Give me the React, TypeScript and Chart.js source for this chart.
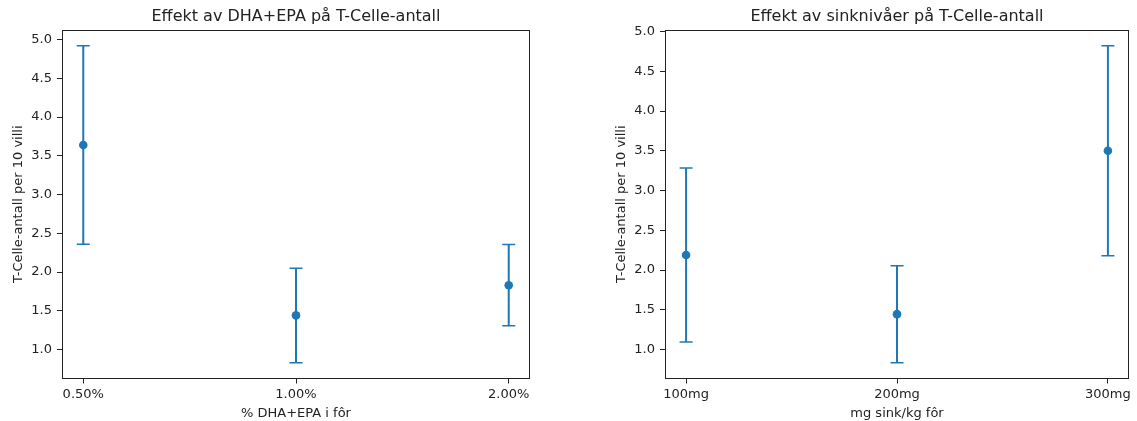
import React, { useEffect, useRef } from 'react';
import { Chart, registerables } from 'chart.js';

Chart.register(...registerables);

// ---- data ----
const dhaLabels = ['0.50%', '1.00%', '2.00%'];
const dhaMeans = [3.64, 1.44, 1.83];
const dhaErrors = [1.28, 0.61, 0.525];

const zincLabels = ['100mg', '200mg', '300mg'];
const zincMeans = [2.19, 1.445, 3.5];
const zincErrors = [1.095, 0.61, 1.32];

const yTickValues = [1.0, 1.5, 2.0, 2.5, 3.0, 3.5, 4.0, 4.5, 5.0];

const dhaTitle = 'Effekt av DHA+EPA på T-Celle-antall';
const zincTitle = 'Effekt av sinknivåer på T-Celle-antall';
const dhaXTitle = '% DHA+EPA i fôr';
const zincXTitle = 'mg sink/kg fôr';
const yTitle = 'T-Celle-antall per 10 villi';

// ---- style ----
const BLUE = '#1f77b4';
const INK = '#222222';
const FONT = "'DejaVu Sans', sans-serif";
const CANVAS_H = 421;
const AREA_TOP = 30;
const AREA_BOTTOM = 378.5;

const framePlugin = {
  id: 'frame',
  afterDatasetsDraw(chart: any) {
    const { left, top, right, bottom } = chart.chartArea;
    const ctx = chart.ctx;
    ctx.save();
    ctx.strokeStyle = INK;
    ctx.lineWidth = 1;
    const l = Math.round(left) + 0.5;
    const t = Math.round(top) + 0.5;
    const r = Math.round(right) - 0.5;
    const b = Math.round(bottom) - 0.5;
    ctx.strokeRect(l, t, r - l, b - t);
    ctx.restore();
  },
};

type PanelProps = {
  labels: string[];
  means: number[];
  errors: number[];
  title: string;
  xTitle: string;
  left: number;
  width: number;
  axisWidth: number;
  padRight: number;
  yTitlePad: number;
};

function Panel(p: PanelProps) {
  const ref = useRef<HTMLCanvasElement | null>(null);

  useEffect(() => {
    if (!ref.current) return;
    const lows = p.means.map((m, i) => m - p.errors[i]);
    const highs = p.means.map((m, i) => m + p.errors[i]);
    const lo = Math.min(...lows);
    const hi = Math.max(...highs);
    const span = hi - lo;
    const yMin = lo - 0.05 * span;
    const yMax = hi + 0.05 * span;
    const n = p.labels.length;
    const xMin = -0.05 * (n - 1);
    const xMax = n - 1 + 0.05 * (n - 1);

    const stems: any[] = [];
    p.means.forEach((_, i) => {
      stems.push({ x: i, y: lows[i] });
      stems.push({ x: i, y: highs[i] });
      stems.push({ x: i, y: null });
    });
    const caps: any[] = [];
    p.means.forEach((_, i) => {
      caps.push({ x: i, y: lows[i] });
      caps.push({ x: i, y: highs[i] });
    });
    const marks = p.means.map((m, i) => ({ x: i, y: m }));

    const chart = new Chart(ref.current, {
      type: 'line',
      data: {
        datasets: [
          {
            data: stems,
            borderColor: BLUE,
            borderWidth: 2,
            pointRadius: 0,
            spanGaps: false,
            showLine: true,
            order: 3,
          } as any,
          {
            data: caps,
            showLine: false,
            pointStyle: 'line',
            pointRadius: 6.5,
            borderColor: BLUE,
            pointBorderColor: BLUE,
            pointBorderWidth: 1.5,
            order: 2,
          } as any,
          {
            data: marks,
            showLine: false,
            pointStyle: 'circle',
            pointRadius: 4.3,
            pointBackgroundColor: BLUE,
            pointBorderColor: BLUE,
            pointBorderWidth: 0,
            order: 1,
          } as any,
        ],
      },
      options: {
        animation: false,
        responsive: false,
        events: [],
        layout: { padding: { left: 0, right: p.padRight, top: 0, bottom: 0 } },
        plugins: {
          legend: { display: false },
          tooltip: { enabled: false },
          title: {
            display: true,
            fullSize: false,
            text: p.title,
            color: INK,
            font: { family: FONT, size: 16, weight: 'normal' as any, lineHeight: 1.2 },
            padding: { top: 7.5, bottom: AREA_TOP - 7.5 - 19.2 },
          },
        },
        scales: {
          x: {
            type: 'linear',
            min: xMin,
            max: xMax,
            afterBuildTicks: (axis: any) => {
              axis.ticks = p.labels.map((_, i) => ({ value: i }));
            },
            afterFit: (axis: any) => {
              axis.height = CANVAS_H - AREA_BOTTOM;
            },
            ticks: {
              autoSkip: false,
              maxRotation: 0,
              color: INK,
              padding: 3,
              font: { family: FONT, size: 13 },
              callback: (v: any) => p.labels[Math.round(Number(v))] ?? '',
            },
            grid: {
              display: true,
              drawOnChartArea: false,
              drawTicks: true,
              tickLength: 5,
              tickWidth: 1,
              tickColor: INK,
            },
            border: { display: false },
            title: {
              display: true,
              text: p.xTitle,
              color: INK,
              font: { family: FONT, size: 13 },
              padding: { top: 0, bottom: 0 },
            },
          },
          y: {
            type: 'linear',
            min: yMin,
            max: yMax,
            afterBuildTicks: (axis: any) => {
              axis.ticks = yTickValues.map((v) => ({ value: v }));
            },
            afterFit: (axis: any) => {
              axis.width = p.axisWidth;
            },
            ticks: {
              autoSkip: false,
              color: INK,
              padding: 5,
              font: { family: FONT, size: 13 },
              callback: (v: any) => Number(v).toFixed(1),
            },
            grid: {
              display: true,
              drawOnChartArea: false,
              drawTicks: true,
              tickLength: 5,
              tickWidth: 1,
              tickColor: INK,
            },
            border: { display: false },
            title: {
              display: true,
              text: yTitle,
              color: INK,
              font: { family: FONT, size: 13 },
              padding: { top: p.yTitlePad, bottom: 0 },
            },
          },
        },
      },
      plugins: [framePlugin],
    });
    return () => chart.destroy();
  }, []);

  return (
    <canvas
      ref={ref}
      width={p.width}
      height={CANVAS_H}
      style={{ position: 'absolute', left: p.left, top: 0, width: p.width, height: CANVAS_H }}
    />
  );
}

export default function App() {
  return (
    <div
      style={{
        position: 'fixed',
        left: 0,
        top: 0,
        width: 1137,
        height: CANVAS_H,
        background: '#ffffff',
        overflow: 'hidden',
      }}
    >
      <Panel
        labels={dhaLabels}
        means={dhaMeans}
        errors={dhaErrors}
        title={dhaTitle}
        xTitle={dhaXTitle}
        left={0}
        width={560}
        axisWidth={62}
        padRight={30}
        yTitlePad={11}
      />
      <Panel
        labels={zincLabels}
        means={zincMeans}
        errors={zincErrors}
        title={zincTitle}
        xTitle={zincXTitle}
        left={600}
        width={537}
        axisWidth={65}
        padRight={6}
        yTitlePad={14}
      />
    </div>
  );
}
